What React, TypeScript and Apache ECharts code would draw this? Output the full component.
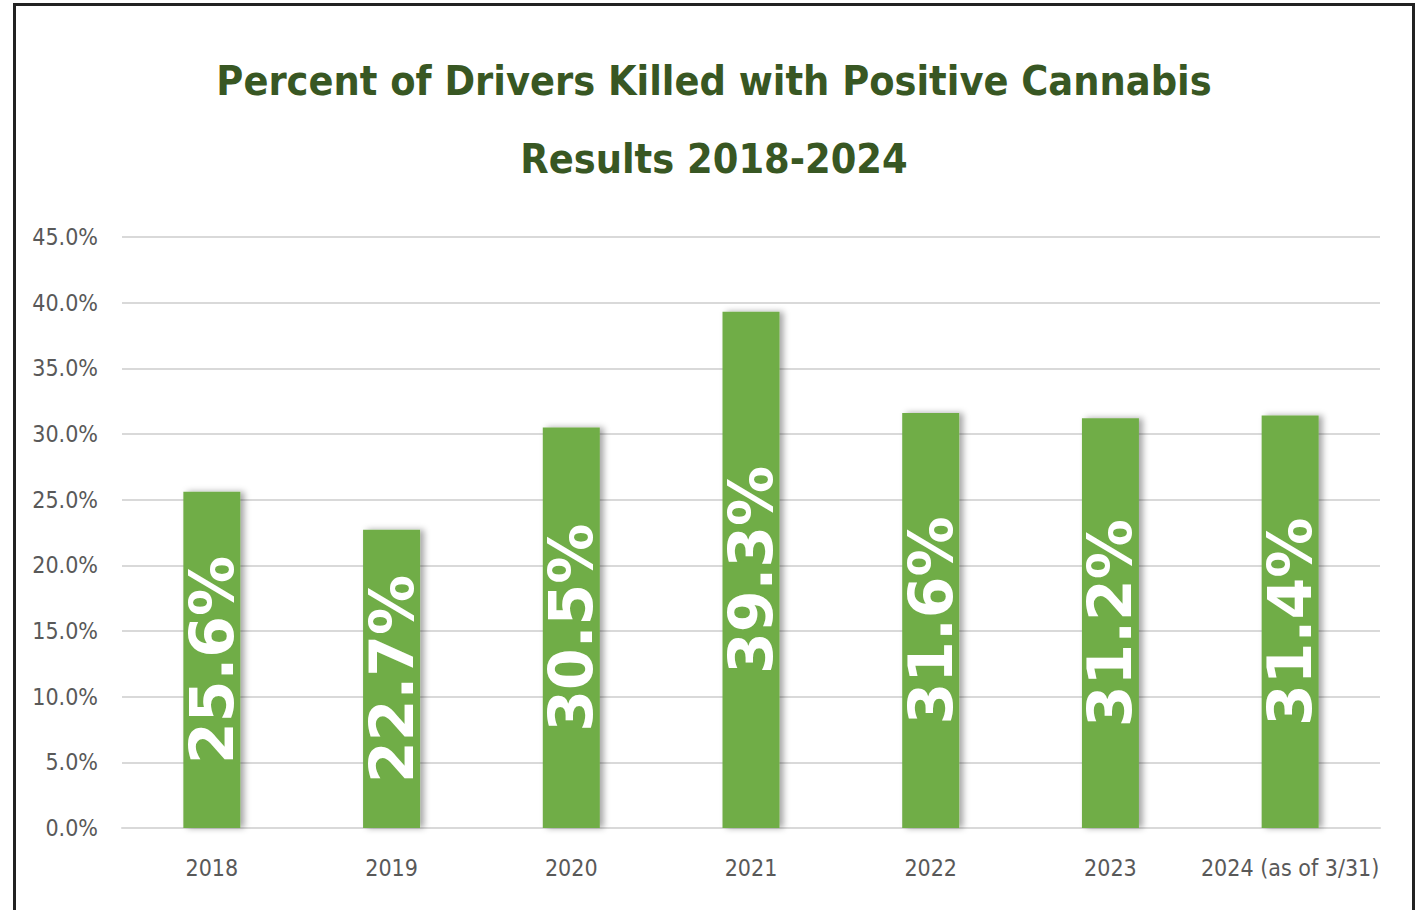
import React, { useEffect, useRef } from "react";
import * as echarts from "echarts";

const titleLines = ["Percent of Drivers Killed with Positive Cannabis", "Results 2018-2024"];
const categories = ["2018", "2019", "2020", "2021", "2022", "2023", "2024 (as of 3/31)"];
const values = [25.6, 22.7, 30.5, 39.3, 31.6, 31.2, 31.4];
const yMin = 0;
const yMax = 45;
const yInterval = 5;

const narrow = "'DejaVu Sans Condensed', Roboto, sans-serif";

export default function App() {
  const ref = useRef<HTMLDivElement>(null);
  useEffect(() => {
    if (!ref.current) return;
    const chart = echarts.init(ref.current, undefined, { renderer: "svg" });
    chart.setOption({
      animation: false,
      backgroundColor: "#ffffff",
      title: {
        text: titleLines.join("\n"),
        left: 709,
        top: 37,
        textAlign: "center",
        textStyle: {
          fontFamily: narrow,
          fontWeight: "bold",
          fontSize: 41,
          lineHeight: 78,
          color: "#385723",
        },
      },
      grid: { left: 122, right: 40, top: 237, bottom: 82, containLabel: false },
      xAxis: {
        type: "category",
        data: categories,
        axisLine: { show: true, lineStyle: { color: "#d9d9d9", width: 2 } },
        axisTick: { show: false },
        axisLabel: {
          interval: 0,
          margin: 28,
          color: "#595959",
          fontFamily: narrow,
          fontSize: 23,
        },
      },
      yAxis: {
        type: "value",
        min: yMin,
        max: yMax,
        interval: yInterval,
        axisLine: { show: false },
        axisTick: { show: false },
        splitLine: { lineStyle: { color: "#d9d9d9", width: 2 } },
        axisLabel: {
          margin: 24,
          color: "#595959",
          fontFamily: narrow,
          fontSize: 23,
          formatter: (v: number) => v.toFixed(1) + "%",
        },
      },
      series: [
        {
          type: "bar",
          data: values,
          barWidth: 57,
          itemStyle: {
            color: "#70ad47",
            shadowColor: "rgba(0,0,0,0.35)",
            shadowBlur: 6,
            shadowOffsetX: 4,
            shadowOffsetY: 0,
          },
          label: {
            show: true,
            position: "inside",
            rotate: 90,
            formatter: (p: any) => p.value + "%",
            color: "#ffffff",
            fontFamily: "'DejaVu Sans', sans-serif",
            fontWeight: "bold",
            fontSize: 60,
          },
        },
      ],
    });
    return () => chart.dispose();
  }, []);
  return (
    <div style={{ position: "fixed", left: 0, top: 0, width: 1420, height: 910, background: "#fff" }}>
      <div ref={ref} style={{ position: "absolute", left: 0, top: 0, width: 1420, height: 910 }} />
      <div
        style={{
          position: "absolute",
          left: 13,
          top: 3,
          width: 1402,
          height: 910,
          border: "3px solid #222",
          borderBottom: "none",
          boxSizing: "border-box",
          pointerEvents: "none",
        }}
      />
    </div>
  );
}
